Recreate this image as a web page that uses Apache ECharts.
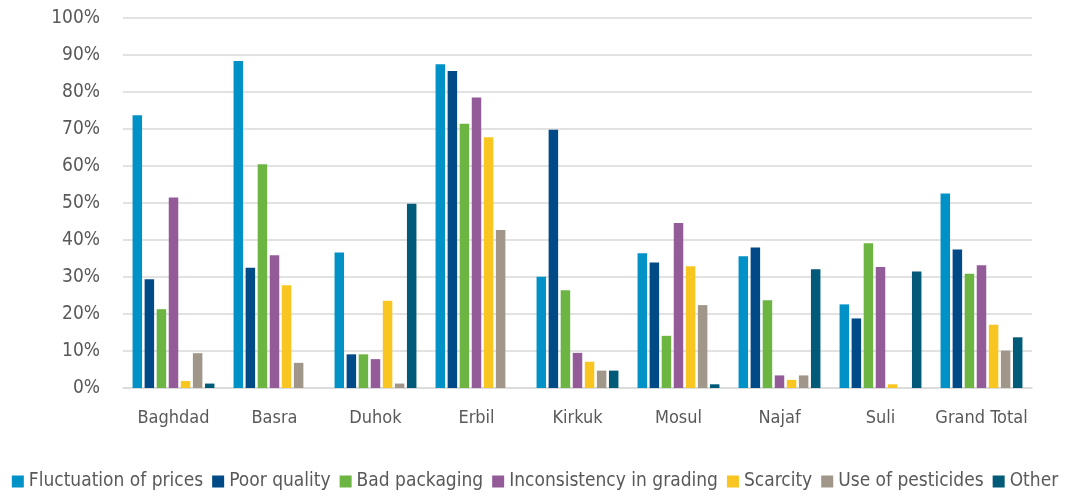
<!DOCTYPE html>
<html>
<head>
<meta charset="utf-8">
<script src="https://cdn.jsdelivr.net/npm/echarts@6/dist/echarts.min.js"></script>
<style>
  html, body { margin: 0; padding: 0; background: #ffffff; }
  #chart { width: 1070px; height: 498px; }
</style>
</head>
<body>
<div id="chart"></div>
<script>
// Regions surveyed
const categories = ['Baghdad', 'Basra', 'Duhok', 'Erbil', 'Kirkuk', 'Mosul', 'Najaf', 'Suli', 'Grand Total'];

// Share of respondents (%) naming each problem, per region
const fluctuationOfPrices = [73.7, 88.4, 36.6, 87.5, 30.1, 36.4, 35.6, 22.6, 52.6];
const poorQuality         = [29.4, 32.5,  9.1, 85.7, 69.8, 33.9, 38.0, 18.8, 37.4];
const badPackaging        = [21.3, 60.5,  9.1, 71.4, 26.4, 14.1, 23.7, 39.1, 30.9];
const inconsistencyGrading= [51.5, 35.9,  7.8, 78.5,  9.5, 44.6,  3.4, 32.7, 33.2];
const scarcity            = [ 1.9, 27.8, 23.6, 67.8,  7.1, 32.9,  2.2,  1.0, 17.1];
const useOfPesticides     = [ 9.4,  6.8,  1.2, 42.7,  4.7, 22.4,  3.4,  0,   10.1];
const other               = [ 1.2,  0,   49.8,  0,    4.7,  1.0, 32.1, 31.5, 13.7];

const yTicks = [0, 10, 20, 30, 40, 50, 60, 70, 80, 90, 100];

const seriesDefs = [
  { name: 'Fluctuation of prices',     data: fluctuationOfPrices,  color: '#0091C7' },
  { name: 'Poor quality',              data: poorQuality,          color: '#004A87' },
  { name: 'Bad packaging',             data: badPackaging,         color: '#6DB543' },
  { name: 'Inconsistency in grading',  data: inconsistencyGrading, color: '#935C98' },
  { name: 'Scarcity',                  data: scarcity,             color: '#F8C521' },
  { name: 'Use of pesticides',         data: useOfPesticides,      color: '#A0968A' },
  { name: 'Other',                     data: other,                color: '#005A78' }
];

const FONT = "'DejaVu Sans Condensed', 'Liberation Sans Narrow', sans-serif";
const TEXT_COLOR = '#595959';

const chart = echarts.init(document.getElementById('chart'), null, { renderer: 'canvas' });

chart.setOption({
  animation: false,
  backgroundColor: '#ffffff',
  textStyle: { fontFamily: FONT },
  grid: { left: 123, right: 38, top: 18, bottom: 110, containLabel: false },
  legend: {
    top: 472,
    left: 'center',
    width: 1070,
    padding: 0,
    itemWidth: 12,
    itemHeight: 12,
    itemGap: 9,
    icon: 'rect',
    textStyle: { fontFamily: FONT, fontSize: 19, color: TEXT_COLOR },
    data: seriesDefs.map(s => s.name)
  },
  xAxis: {
    type: 'category',
    data: categories,
    axisLine: { show: true, lineStyle: { color: '#d9d9d9', width: 1.5 } },
    axisTick: { show: false },
    axisLabel: { fontFamily: FONT, fontSize: 18, color: TEXT_COLOR, margin: 21, interval: 0 }
  },
  yAxis: {
    type: 'value',
    min: yTicks[0],
    max: yTicks[yTicks.length - 1],
    interval: 10,
    axisLine: { show: false },
    axisTick: { show: false },
    splitLine: { lineStyle: { color: '#d9d9d9', width: 1.5 } },
    axisLabel: { fontFamily: FONT, fontSize: 19, color: TEXT_COLOR, margin: 23, formatter: v => v + '%' }
  },
  series: seriesDefs.map(s => ({
    name: s.name,
    type: 'bar',
    data: s.data,
    barWidth: 9.5,
    barGap: '27%',
    itemStyle: { color: s.color },
    emphasis: { disabled: true }
  }))
});
</script>
</body>
</html>
